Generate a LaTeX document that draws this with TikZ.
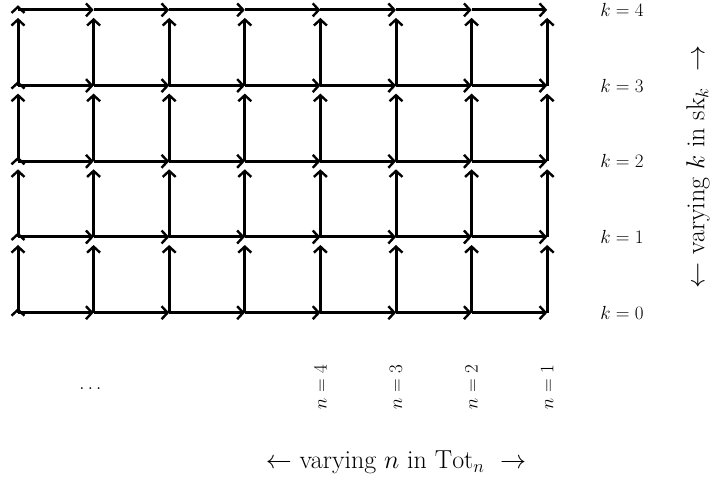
\RequirePackage{fix-cm}
\documentclass[tikz,border=0pt]{standalone}
\usepackage{amsmath}
\usepackage{fontspec}
\usetikzlibrary{arrows.meta}
\begin{document}
\begin{tikzpicture}[x=1pt,y=1pt,
  gridline/.style={line width=3pt},
  harr/.style={gridline,-{Straight Barb[length=6pt,width=13pt,line width=2.4pt]}},
  varr/.style={harr,shorten >=8pt},
  barbup/.style={line width=2.4pt},
  smalltxt/.style={font=\fontsize{19}{21}\selectfont,inner sep=0pt},
  bigtxt/.style={font=\fontsize{26}{29}\selectfont,inner sep=0pt}]
\useasboundingbox (0,0) rectangle (713,480);
\foreach \i in {0,...,7}{
  \foreach \j in {0,...,4}{
    \coordinate (c\i\j) at ({18+75.6*\i},{167.3+75.7*\j});
  }
}
% horizontal arrows
\foreach \j in {0,...,4}{
  \foreach \i in {0,...,6}{
    \pgfmathtruncatemacro{\nx}{\i+1}
    \draw[harr] (c\i\j) -- (c\nx\j);
  }
}
% vertical arrows
\foreach \i in {0,...,7}{
  \foreach \j in {0,...,3}{
    \pgfmathtruncatemacro{\ny}{\j+1}
    \draw[varr] (c\i\j) -- (c\i\ny);
  }
}
% extra barbs on the left column
\foreach \j in {0,...,4}{
  \draw[barbup] ([xshift=-6.5pt,yshift=-3pt]c0\j) -- ([yshift=3pt]c0\j) -- ([xshift=6.5pt,yshift=-3pt]c0\j);
}
% k labels
\foreach \j in {0,...,4}{
  \node[smalltxt] (k\j) at (622,{167.3+75.7*\j}) {$k=\j$};
}
% n labels
\node[smalltxt,rotate=90] (n4) at (c40 |- 0,93) {$n=4$};
\node[smalltxt,rotate=90] (n3) at (c50 |- 0,93) {$n=3$};
\node[smalltxt,rotate=90] (n2) at (c60 |- 0,93) {$n=2$};
\node[smalltxt,rotate=90] (n1) at (c70 |- 0,93) {$n=1$};
\node[smalltxt,anchor=base] (dots) at (92,90) {$\dots$};
% axis labels
\node[bigtxt] (nlab) at (396,18) {$\leftarrow$ varying $n$ in $\mathrm{Tot}_n$\ \ $\rightarrow$};
\node[bigtxt,rotate=90] (klab) at (698,313) {$\leftarrow$ varying $k$ in $\mathrm{sk}_k$\ \ $\rightarrow$};
\end{tikzpicture}
\end{document}
